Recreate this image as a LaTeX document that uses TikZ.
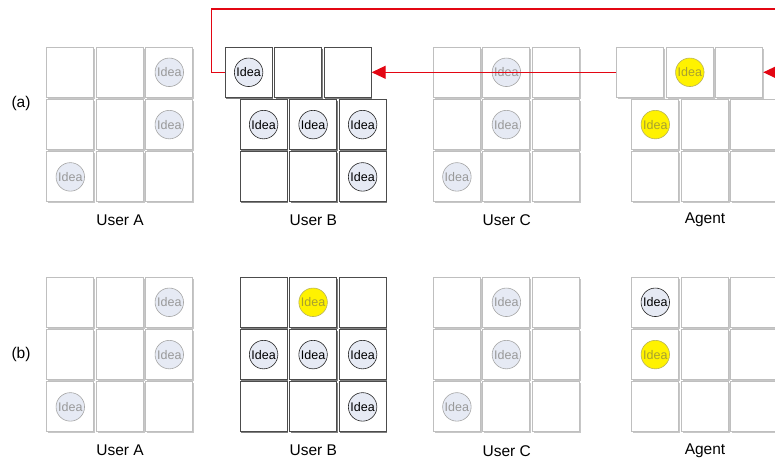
\documentclass[tikz,border=0pt]{standalone}
\usepackage{fontspec}
\setmainfont{Liberation Sans}
\usetikzlibrary{arrows.meta,shadows}
\definecolor{wirered}{HTML}{E30613}
\definecolor{ideafill}{HTML}{E6EAF4}
\definecolor{ideayel}{HTML}{FFF200}
\definecolor{yeltext}{HTML}{A8A030}

% one 3x3 board: name, left x, top y, cell style, shift of the top row
\newcommand{\ideaboard}[5]{%
  \foreach \r in {1,2,3}{
    \foreach \c in {1,2,3}{
      \pgfmathsetmacro{\dx}{ifthenelse(\r==1,#5,0)}
      \node[#4] (#1-\r\c) at ({#2+(\c-1)*49.5+23.6+\dx},{#3+(\r-1)*52.3+25}) {};
    }
  }
}

\begin{document}
\begin{tikzpicture}[
  x=1pt, y=-1pt,
  cell/.style={draw=black!25, line width=0.9pt, fill=white, rectangle,
    minimum width=47pt, minimum height=50pt, inner sep=0pt,
    drop shadow={shadow xshift=1.3pt, shadow yshift=-1.3pt, fill=black!22, opacity=1}},
  cellB/.style={cell, draw=black!70, line width=1.1pt,
    drop shadow={shadow xshift=1.3pt, shadow yshift=-1.3pt, fill=black!50, opacity=1}},
  idea/.style={circle, minimum size=28.5pt, inner sep=0pt, fill=ideafill,
    draw=black!35, text=black!40, font=\fontsize{12.5}{13}\selectfont, line width=0.6pt},
  ideaB/.style={idea, draw=black!85, text=black},
  ideaY/.style={idea, fill=ideayel, draw=yeltext!80, text=yeltext},
  lbl/.style={font=\fontsize{15.5}{16}\selectfont},
  wred/.style={wirered, line width=1.2pt},
]
\useasboundingbox (0,0) rectangle (775,462);
\clip (0,0) rectangle (775,462);

% ---------- row (a) ----------
\node[lbl] (tagA) at (21,103) {(a)};
\ideaboard{aA}{46.7}{47.3}{cell}{0}
\ideaboard{aB}{240}{47.3}{cellB}{-15}
\ideaboard{aC}{433.3}{47.3}{cell}{0}
\ideaboard{aD}{631.7}{47.3}{cell}{-15}

\foreach \p in {13,23,31} \node[idea] (iaA\p) at (aA-\p) {Idea};
\foreach \p in {11,21,22,23,33} \node[ideaB] (iaB\p) at (aB-\p) {Idea};
\foreach \p in {12,22,31} \node[idea] (iaC\p) at (aC-\p) {Idea};
\foreach \p in {12,21} \node[ideaY] (iaD\p) at (aD-\p) {Idea};

\node[lbl] (laA) at (120,220) {User A};
\node[lbl] (laB) at (313.3,220) {User B};
\node[lbl] (laC) at (506.7,220) {User C};
\node[lbl] (laD) at (705,220) {Agent};

% red feedback wires
\coordinate (loopR) at (800,9);
\coordinate (inR) at (800,72.3);
\draw[wred] (aB-11.west) -- ++(-13,0) |- (loopR);
\draw[wred, -{Triangle[length=14pt,width=13pt]}] (aD-11.west) -- (aB-13.east);
\draw[wred, -{Triangle[length=14pt,width=13pt]}] (inR) -- (aD-13.east);

% ---------- row (b) ----------
\node[lbl] (tagB) at (21,354) {(b)};
\ideaboard{bA}{46.7}{277.3}{cell}{0}
\ideaboard{bB}{240}{277.3}{cellB}{0}
\ideaboard{bC}{433.3}{277.3}{cell}{0}
\ideaboard{bD}{631.7}{277.3}{cell}{0}

\foreach \p in {13,23,31} \node[idea] (ibA\p) at (bA-\p) {Idea};
\node[ideaY] (ibB12) at (bB-12) {Idea};
\foreach \p in {21,22,23,33} \node[ideaB] (ibB\p) at (bB-\p) {Idea};
\foreach \p in {12,22,31} \node[idea] (ibC\p) at (bC-\p) {Idea};
\node[ideaB] (ibD11) at (bD-11) {Idea};
\node[ideaY] (ibD21) at (bD-21) {Idea};

\node[lbl] (lbA) at (120,450.7) {User A};
\node[lbl] (lbB) at (313.3,450.7) {User B};
\node[lbl] (lbC) at (506.7,450.7) {User C};
\node[lbl] (lbD) at (705,450.7) {Agent};
\end{tikzpicture}
\end{document}
